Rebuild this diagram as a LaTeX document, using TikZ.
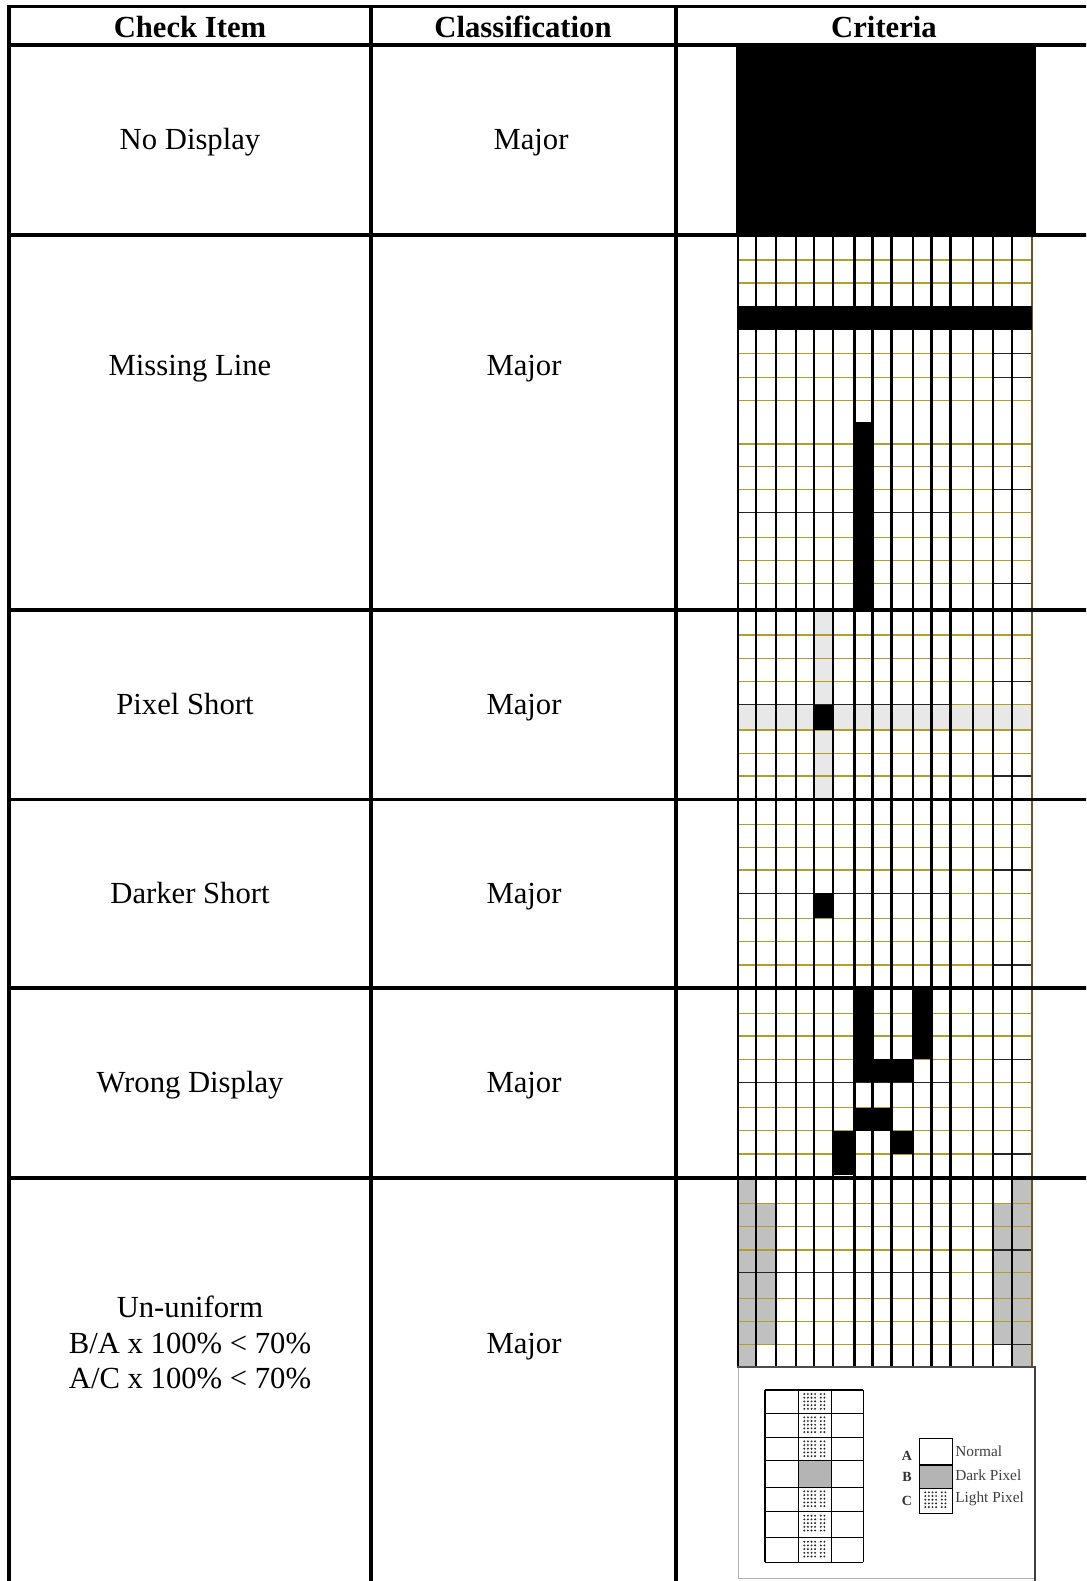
\documentclass[tikz,border=0pt]{standalone}
\usepackage{fontspec}
\setmainfont{Liberation Serif}
\definecolor{gridolive}{RGB}{178,158,40}
\definecolor{rimbrown}{RGB}{100,85,45}
\definecolor{bandgrey}{RGB}{232,232,232}
\definecolor{sidegrey}{RGB}{192,192,192}
\definecolor{darkpix}{RGB}{180,180,180}
\newcommand\lightdots[2]{%
  \foreach \i in {0,...,3}{\foreach \j in {0,...,4}{\fill[black!85] (#1+6+3.6*\i,#2+4+3.7*\j) circle[radius=0.8pt];}}%
  \foreach \i in {0,1}{\foreach \j in {0,...,4}{\fill[black!85] (#1+22.5+3.6*\i,#2+4+3.7*\j) circle[radius=0.8pt];}}%
}
\newcommand\gridrows[1]{%
  \foreach \yy [count=\k] in {#1}{%
    \draw[hl] (738,\yy) -- (1032,\yy);
    \ifnum\k=3 \draw[hlb] (993,\yy) -- (1032,\yy);\fi
    \ifnum\k=7 \draw[hlb] (993,\yy) -- (1032,\yy);\fi
    \ifnum\k=4 \draw[hlb] (738,\yy) -- (950,\yy);\fi
  }%
}
\newcommand\gridcols[2]{%
  \foreach \xx in {738,756,776,796,814,833,854.5,872.5,891.5,913,931.5,950.5,973,993,1012}{\draw[vl] (\xx,#1) -- (\xx,#2);}%
  \draw[vlr] (1032,#1) -- (1032,#2);%
}
\begin{document}
\begin{tikzpicture}[x=0.75pt,y=-0.75pt,
  tbl/.style={line width=2.7pt},
  vl/.style={line width=1.6pt, draw=black},
  vlr/.style={line width=1.6pt, draw=rimbrown},
  hl/.style={line width=1pt, draw=gridolive},
  hlb/.style={line width=1pt, draw=black!85},
  txt/.style={font=\fontsize{23}{27}\selectfont, anchor=base, inner sep=0pt},
  hdr/.style={font=\fontsize{23}{27}\selectfont\bfseries, anchor=base, inner sep=0pt},
  lgd/.style={font=\fontsize{11.5}{13}\selectfont, text=black!75, anchor=west, inner sep=0pt},
  lgl/.style={font=\fontsize{10.5}{12}\selectfont\bfseries, text=black!80, anchor=center, inner sep=0pt}]
\useasboundingbox (0,0) rectangle (1086,1581);
\clip (0,0) rectangle (1086,1581);
\fill[white] (0,0) rectangle (1086,1581);

% ---------- No Display ----------
\fill[black] (736,45) rectangle (1036,235);

% ---------- Missing Line ----------
\foreach \yy in {260,283,353.3,377.3,400.7,444,466.7,489.3,512.7,537.7,560.7,583.3}{\draw[hl] (738,\yy) -- (1032,\yy);}
\draw[hlb] (993,353.3) -- (1032,353.3);
\draw[hlb] (993,377.3) -- (1032,377.3);
\draw[hlb] (993,489.3) -- (1032,489.3);
\draw[hlb] (738,512.7) -- (950,512.7);
\draw[hlb] (993,583.3) -- (1032,583.3);
\gridcols{235}{610}
\fill[black] (736.7,306) rectangle (1032,330);
\fill[black] (854,422) rectangle (872.5,608);

% ---------- Pixel Short ----------
\fill[bandgrey] (738,704.7) rectangle (1032,730);
\fill[bandgrey] (814.3,610) rectangle (832.7,799.5);
\gridrows{635,658.3,681.3,704.7,730,753.3,776}
\gridcols{610}{799.5}
\fill[black] (813,704.7) rectangle (833.3,730);

% ---------- Darker Short ----------
\gridrows{824.3,847.3,870,893.3,918.3,941.7,965}
\gridcols{799.5}{988}
\fill[black] (813.3,893.3) rectangle (833.3,918.3);

% ---------- Wrong Display ----------
\gridrows{1013.3,1036,1059.3,1082.3,1107.7,1130.7,1154}
\gridcols{988}{1178}
\fill[black] (854,990) rectangle (873,1082.3);
\fill[black] (913,990) rectangle (932.5,1059.3);
\fill[black] (854,1059.3) rectangle (913,1082.3);
\fill[black] (854,1107.7) rectangle (892,1130.7);
\fill[black] (833,1130.7) rectangle (855,1175);
\fill[black] (892,1130.7) rectangle (914,1154);

% ---------- Un-uniform ----------
\fill[sidegrey] (738,1180) rectangle (756,1366);
\fill[sidegrey] (756,1203.3) rectangle (776,1344.3);
\fill[sidegrey] (993,1203.3) rectangle (1012,1344.3);
\fill[sidegrey] (1012,1180) rectangle (1032,1366);
\gridrows{1203.3,1226.7,1250,1272.7,1298.3,1321.7,1344.3}
\gridcols{1178}{1366}

% legend picture
\draw[gray!60, line width=0.6pt] (738,1367) rectangle (1035,1578);
\draw[black!70, line width=2.2pt] (736.5,1367) -- (1035,1367);
\draw[black!75, line width=1.4pt] (1035,1366) -- (1035,1581);
\fill[darkpix] (798.3,1460.7) rectangle (831.7,1487.3);
\foreach \yy in {1390,1413.3,1437.3,1487.3,1511.7,1537.7}{\lightdots{798.3}{\yy}}
\foreach \xx in {765,798.3,831.7,863.3}{\draw[line width=1.1pt] (\xx,1390) -- (\xx,1562.3);}
\foreach \yy in {1390,1413.3,1437.3,1460.7,1487.3,1511.7,1537.7,1562.3}{\draw[line width=1.1pt] (765,\yy) -- (863.3,\yy);}
\fill[darkpix] (919.3,1465) rectangle (952.7,1488.3);
\lightdots{919.3}{1488.3}
\draw[line width=1.1pt] (919.3,1438.3) rectangle (952.7,1513.3);
\draw[line width=1.1pt] (919.3,1465) -- (952.7,1465);
\draw[line width=1.1pt] (919.3,1488.3) -- (952.7,1488.3);
\node[lgl] (la) at (907,1455.7) {A};
\node[lgl] (lb) at (907,1477.3) {B};
\node[lgl] (lc) at (907,1501.3) {C};
\node[lgd] (na) at (955,1451.7) {Normal};
\node[lgd] (nb) at (955,1475.3) {Dark Pixel};
\node[lgd] (nc) at (955,1499.3) {Light Pixel};

% ---------- table lines ----------
\foreach \yy in {6.5,45,235,610,799.5,988,1178}{\draw[tbl] (7.2,\yy) -- (1090,\yy);}
\foreach \xx in {9,371,676}{\draw[tbl] (\xx,5) -- (\xx,1590);}

% ---------- texts ----------
\node[hdr] (h1) at (190,37) {Check Item};
\node[hdr] (h2) at (523,37) {Classification};
\node[hdr] (h3) at (884,37) {Criteria};
\node[txt] (i1) at (190,149) {No Display};
\node[txt] (c1) at (531,149) {Major};
\node[txt] (i2) at (190,375) {Missing Line};
\node[txt] (c2) at (524,375) {Major};
\node[txt] (i3) at (185,714) {Pixel Short};
\node[txt] (c3) at (524,714) {Major};
\node[txt] (i4) at (190,903) {Darker Short};
\node[txt] (c4) at (524,903) {Major};
\node[txt] (i5) at (190,1092) {Wrong Display};
\node[txt] (c5) at (524,1092) {Major};
\node[txt] (i6a) at (190,1317) {Un-uniform};
\node[txt] (i6b) at (190,1353) {B/A x 100\% < 70\%};
\node[txt] (i6c) at (190,1388) {A/C x 100\% < 70\%};
\node[txt] (c6) at (524,1353) {Major};
\end{tikzpicture}
\end{document}
